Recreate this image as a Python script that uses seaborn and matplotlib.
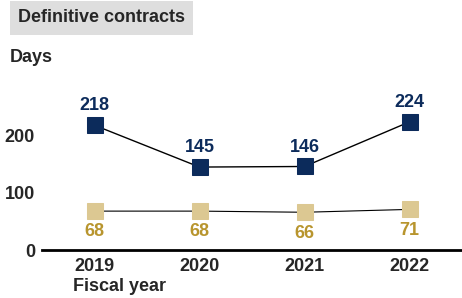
import matplotlib
matplotlib.use("Agg")
import matplotlib.pyplot as plt
import seaborn as sns

sns.set_style("white")
plt.rcParams["font.family"] = ["Liberation Sans", "DejaVu Sans"]
plt.rcParams["font.weight"] = "bold"

years = ["2019", "2020", "2021", "2022"]
upper_days = [218, 145, 146, 224]
lower_days = [68, 68, 66, 71]

navy = "#0c2b5b"
tan = "#dcc892"
gold = "#b8952e"

x = list(range(len(years)))

fig = plt.figure(figsize=(4.62, 2.98), dpi=100)
ax = fig.add_axes([0.091, 0.161, 0.909, 0.48])

sns.lineplot(x=x, y=upper_days, ax=ax, color="black", linewidth=1,
             marker="s", markersize=11, markerfacecolor=navy,
             markeredgecolor=navy, clip_on=False)
sns.lineplot(x=x, y=lower_days, ax=ax, color="black", linewidth=0.8,
             marker="s", markersize=11, markerfacecolor=tan,
             markeredgecolor=tan, clip_on=False)

for xi, v in zip(x, upper_days):
    ax.annotate(str(v), (xi, v), xytext=(0, 14), textcoords="offset points",
                ha="center", va="center", color=navy, fontsize=13, fontweight="bold")
for xi, v in zip(x, lower_days):
    ax.annotate(str(v), (xi, v), xytext=(0, -15), textcoords="offset points",
                ha="center", va="center", color=gold, fontsize=13, fontweight="bold")

ax.set_xlim(-0.5, 3.5)
ax.set_ylim(0, 250)
ax.set_xticks(x)
ax.set_xticklabels(years, fontsize=13, fontweight="bold")
ax.set_yticks([0, 100, 200])
ax.set_yticklabels(["0", "100", "200"], fontsize=13, fontweight="bold")
ax.tick_params(length=0, pad=6)
ax.tick_params(axis="y", pad=5)
for s in ["top", "right", "left"]:
    ax.spines[s].set_visible(False)
ax.spines["bottom"].set_color("black")
ax.spines["bottom"].set_linewidth(2)

fig.text(0.039, 0.94, "Definitive contracts", fontsize=13, fontweight="bold",
         va="center", ha="left",
         bbox=dict(boxstyle="square,pad=0.45", facecolor="#dedede", edgecolor="none"))
fig.text(0.022, 0.808, "Days", fontsize=13, fontweight="bold", va="center", ha="left")
fig.text(0.158, 0.037, "Fiscal year", fontsize=13, fontweight="bold", va="center", ha="left")

plt.savefig("out.png", dpi=100)
